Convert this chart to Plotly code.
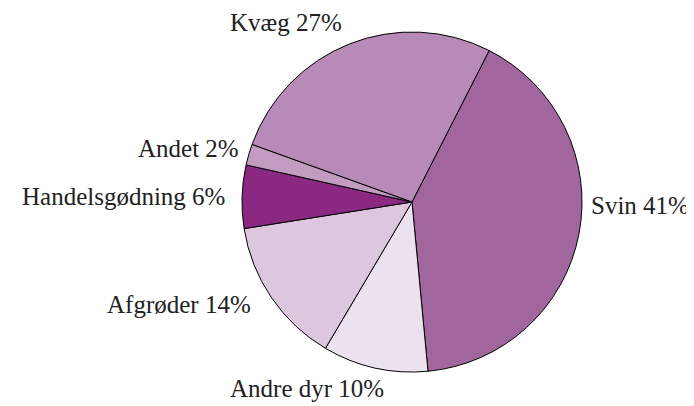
import plotly.graph_objects as go

labels = ["Svin", "Andre dyr", "Afgrøder", "Handelsgødning", "Andet", "Kvæg"]
values = [41, 10, 14, 6, 2, 27]
colors = ["#A1669E", "#ECE1EE", "#DCC7DE", "#8A2882", "#C29BC2", "#B78AB7"]

W, H = 694, 406
OFF = 8  # page body margin offset
FW, FH = W - OFF, H - OFF  # figure size so the page does not overflow
cx, cy, r = 412 - OFF, 202 - OFF, 170

fig = go.Figure(go.Pie(
    labels=labels, values=values, sort=False, direction="clockwise",
    rotation=27, textinfo="none", hoverinfo="label+percent",
    marker=dict(colors=colors, line=dict(color="black", width=1)),
    domain=dict(x=[(cx - r) / FW, (cx + r) / FW], y=[1 - (cy + r) / FH, 1 - (cy - r) / FH]),
    showlegend=False,
))

# label placement (screen pixel anchor, alignment)
label_pos = {
    "Kvæg": (286, 22, "center"),
    "Svin": (691, 205, "right"),
    "Andre dyr": (307, 388, "center"),
    "Afgrøder": (253, 304, "right"),
    "Handelsgødning": (227, 196, "right"),
    "Andet": (241, 149, "right"),
}
for lab, val in zip(labels, values):
    x, y, al = label_pos[lab]
    fig.add_annotation(
        x=(x - OFF) / FW, y=1 - (y - OFF) / FH, xref="paper", yref="paper",
        text=f"{lab} {val}%", showarrow=False,
        xanchor=al, yanchor="middle",
        font=dict(family="Liberation Serif", size=25, color="#222222"),
    )

fig.update_layout(
    width=FW, height=FH, margin=dict(l=0, r=0, t=0, b=0),
    paper_bgcolor="white", plot_bgcolor="white",
)
fig.write_html("out.html")
